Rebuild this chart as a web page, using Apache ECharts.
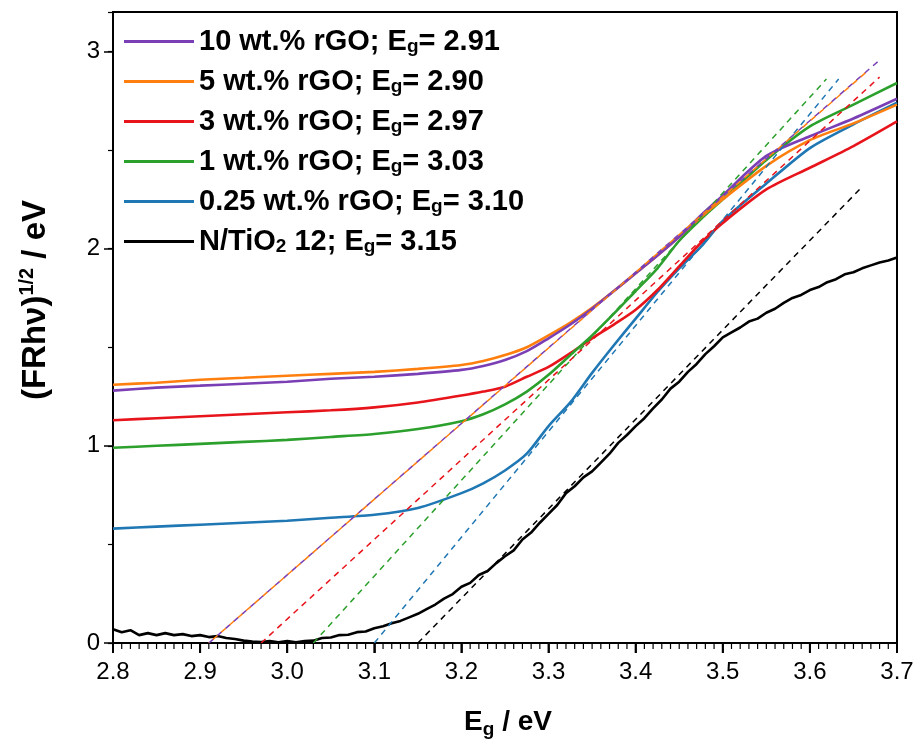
<!DOCTYPE html>
<html>
<head>
<meta charset="utf-8">
<script src="https://cdn.jsdelivr.net/npm/echarts@6/dist/echarts.min.js"></script>
<style>html,body{margin:0;padding:0;background:#fff}#c{width:922px;height:746px}</style>
</head>
<body>
<div id="c"></div>
<script>
// ---- data ----
const seriesNames = ['10 wt.% rGO', '5 wt.% rGO', '3 wt.% rGO', '1 wt.% rGO', '0.25 wt.% rGO', 'N/TiO2 12'];
const bandGaps = ['2.91', '2.90', '2.97', '3.03', '3.10', '3.15'];
const colors = ['#7b3fb5', '#ff7f0e', '#e8141b', '#2ca02c', '#1f77b4', '#000000'];

const xGrid = [2.80,2.85,2.90,2.95,3.00,3.05,3.10,3.15,3.20,3.225,3.25,3.275,3.30,3.325,3.35,3.375,3.40,3.425,3.45,3.475,3.50,3.55,3.60,3.65,3.70];
const rGO10 = [1.28,1.295,1.305,1.315,1.325,1.34,1.35,1.365,1.385,1.405,1.435,1.48,1.545,1.615,1.695,1.785,1.875,1.965,2.06,2.17,2.27,2.47,2.57,2.66,2.76];
const rGO5  = [1.31,1.32,1.335,1.345,1.355,1.365,1.375,1.39,1.41,1.43,1.46,1.50,1.56,1.625,1.70,1.785,1.875,1.965,2.06,2.16,2.25,2.42,2.55,2.635,2.73];
const rGO3  = [1.13,1.14,1.15,1.16,1.17,1.18,1.195,1.22,1.255,1.275,1.30,1.35,1.40,1.47,1.545,1.615,1.69,1.79,1.91,2.03,2.13,2.30,2.41,2.52,2.645];
const rGO1  = [0.99,1.00,1.01,1.02,1.03,1.045,1.06,1.085,1.125,1.16,1.21,1.275,1.36,1.46,1.56,1.67,1.785,1.90,2.04,2.15,2.25,2.45,2.62,2.73,2.84];
const rGO025= [0.58,0.59,0.60,0.61,0.62,0.635,0.65,0.685,0.76,0.81,0.875,0.96,1.10,1.22,1.37,1.51,1.645,1.78,1.90,2.01,2.14,2.33,2.51,2.63,2.74];

const blackX = [2.80,2.81,2.82,2.83,2.84,2.85,2.86,2.87,2.88,2.89,2.90,2.91,2.92,2.93,2.94,2.95,2.96,2.97,2.98,2.99,
  3.00,3.01,3.02,3.03,3.04,3.05,3.06,3.07,3.08,3.09,3.10,3.11,3.12,3.13,3.14,3.15,3.16,3.17,3.18,3.19,
  3.20,3.21,3.22,3.23,3.24,3.25,3.26,3.27,3.28,3.29,3.30,3.31,3.32,3.33,3.34,3.35,3.36,3.37,3.38,3.39,
  3.40,3.41,3.42,3.43,3.44,3.45,3.46,3.47,3.48,3.49,3.50,3.51,3.52,3.53,3.54,3.55,3.56,3.57,3.58,3.59,
  3.60,3.61,3.62,3.63,3.64,3.65,3.66,3.67,3.68,3.69,3.70];
const blackY = [0.07,0.055,0.065,0.04,0.05,0.04,0.05,0.04,0.045,0.035,0.04,0.03,0.035,0.025,0.02,0.012,0.008,0.005,0.01,0.004,
  0.01,0.004,0.01,0.012,0.025,0.028,0.04,0.042,0.055,0.058,0.075,0.085,0.10,0.112,0.13,0.148,0.172,0.195,0.225,0.248,
  0.285,0.305,0.345,0.365,0.405,0.44,0.47,0.525,0.56,0.61,0.655,0.70,0.76,0.795,0.84,0.87,0.915,0.96,1.015,1.055,
  1.10,1.14,1.19,1.235,1.29,1.325,1.375,1.415,1.465,1.505,1.55,1.575,1.60,1.63,1.645,1.675,1.695,1.725,1.75,1.765,
  1.79,1.805,1.83,1.845,1.87,1.88,1.90,1.915,1.93,1.94,1.955];

// linear fits (Tauc extrapolation): start on the x axis, end point
const fitStartX = [2.91, 2.91, 2.97, 3.03, 3.10, 3.15];
const fitEndX   = [3.681, 3.666, 3.680, 3.619, 3.633, 3.657];
const fitEndY   = [2.96, 2.90, 2.87, 2.86, 2.86, 2.30];

const xTicks = [2.8, 3.7, 0.1, 0.01];
const yTicks = [0, 3.2, 1, 0.5];

// ---- chart ----
const FONT = 'Liberation Sans, Arial, sans-serif';
const solidData = [rGO10, rGO5, rGO3, rGO1, rGO025].map(arr => xGrid.map((x, i) => [x, arr[i]]));
solidData.push(blackX.map((x, i) => [x, blackY[i]]));

const series = [];
const solidOrder = [5, 4, 2, 3, 1, 0];
solidOrder.forEach(k => {
  series.push({
    name: seriesNames[k], type: 'line', data: solidData[k], showSymbol: false, symbol: 'none',
    smooth: k === 5 ? false : 0.25,
    lineStyle: { color: colors[k], width: 2.6 }, itemStyle: { color: colors[k] }, z: 3, animation: false
  });
});
[5, 4, 3, 2, 0, 1].forEach(k => {
  series.push({
    name: 'fit' + k, type: 'line', symbol: 'none', showSymbol: false, animation: false,
    data: [[fitStartX[k], 0], [fitEndX[k], fitEndY[k]]],
    lineStyle: { color: colors[k], width: 1.5, type: [6, 5], dashOffset: (k === 1 ? 5.5 : 0) },
    itemStyle: { color: colors[k] }, z: 4, silent: true
  });
});

// x-axis tick comb (major every 0.1, minor every 0.01) drawn through the axis scale
const nMinor = Math.round((xTicks[1] - xTicks[0]) / xTicks[3]);
const perMajor = Math.round(xTicks[2] / xTicks[3]);
const tickData = [];
for (let i = 0; i <= nMinor; i++) tickData.push([+(xTicks[0] + i * xTicks[3]).toFixed(4), yTicks[0], i % perMajor === 0 ? 1 : 0]);
series.push({
  name: 'xTickComb', type: 'custom', data: tickData, clip: false, silent: true, animation: false, z: 20,
  encode: { x: 0, y: 1 },
  renderItem: function (params, api) {
    const p = api.coord([api.value(0), api.value(1)]);
    const major = api.value(2) === 1;
    const w = major ? 2 : 1.2;
    return {
      type: 'rect',
      shape: { x: p[0] - w / 2, y: p[1], width: w, height: major ? 10 : 6 },
      style: { fill: '#000' }
    };
  }
});

function legendLabel(name) {
  const i = seriesNames.indexOf(name);
  const pre = name === 'N/TiO2 12' ? '{t|N/TiO}{s|2}{t| 12; E}' : '{t|' + name + '; E}';
  return pre + '{s|g}{t|= ' + bandGaps[i] + '}';
}

const titleGraphics = [
  {
    type: 'text', x: 36, y: 300, rotation: Math.PI / 2, silent: true,
    style: {
      text: '{t|(FRhν)}{p|1/2}{t| / eV}', align: 'center', verticalAlign: 'middle',
      rich: {
        t: { fontSize: 33, fontWeight: 'bold', fill: '#000', fontFamily: FONT, lineHeight: 38 },
        p: { fontSize: 20, fontWeight: 'bold', fill: '#000', fontFamily: FONT, lineHeight: 24, verticalAlign: 'top' }
      }
    }
  },
  {
    type: 'text', x: 508, y: 722, silent: true,
    style: {
      text: '{t|E}{s|g}{t| / eV}', align: 'center', verticalAlign: 'middle',
      rich: {
        t: { fontSize: 28, fontWeight: 'bold', fill: '#000', fontFamily: FONT, lineHeight: 34 },
        s: { fontSize: 19, fontWeight: 'bold', fill: '#000', fontFamily: FONT, lineHeight: 24, verticalAlign: 'bottom' }
      }
    }
  }
];

const chart = echarts.init(document.getElementById('c'), null, { renderer: 'canvas' });
chart.setOption({
  animation: false,
  backgroundColor: '#fff',
  grid: { left: 113, right: 25, top: 12, bottom: 103, show: true, borderColor: '#000', borderWidth: 2 },
  legend: {
    data: seriesNames, orient: 'vertical', left: 119, top: 22,
    icon: 'rect', itemWidth: 70, itemHeight: 3, itemGap: 10.5,
    formatter: legendLabel,
    textStyle: {
      fontFamily: FONT,
      rich: {
        t: { fontSize: 29, fontWeight: 'bold', color: '#000', fontFamily: FONT, lineHeight: 30 },
        s: { fontSize: 19, fontWeight: 'bold', color: '#000', fontFamily: FONT, lineHeight: 22, verticalAlign: 'bottom' }
      }
    }
  },
  graphic: titleGraphics,
  xAxis: {
    type: 'value', min: xTicks[0], max: xTicks[1], interval: xTicks[2], position: 'bottom',
    splitLine: { show: false },
    axisLine: { show: true, onZero: false, lineStyle: { color: '#000', width: 2 } },
    axisTick: { show: true, inside: false, length: 10, lineStyle: { color: '#000', width: 1.6 } },
    axisLabel: { color: '#000', fontSize: 24, fontFamily: FONT, margin: 17, formatter: v => v.toFixed(1) }
  },
  yAxis: [
    {
      type: 'value', min: yTicks[0], max: yTicks[1], interval: yTicks[2], position: 'left',
      splitLine: { show: false },
      axisLine: { show: true, onZero: false, lineStyle: { color: '#000', width: 2 } },
      axisTick: { show: true, length: 9, lineStyle: { color: '#000', width: 1.5 } },
      axisLabel: { color: '#000', fontSize: 24, fontFamily: FONT, margin: 13, showMaxLabel: false,
        formatter: v => (Math.abs(v - Math.round(v)) < 1e-6 ? String(Math.round(v)) : '') }
    },
    {
      type: 'value', min: yTicks[0], max: yTicks[1], interval: yTicks[3], position: 'left', offset: 0,
      splitLine: { show: false },
      axisLine: { show: false, onZero: false },
      axisTick: { show: true, length: 5, lineStyle: { color: '#000', width: 1.2 } },
      axisLabel: { show: false }
    }
  ],
  series: series
});
</script>
</body>
</html>
